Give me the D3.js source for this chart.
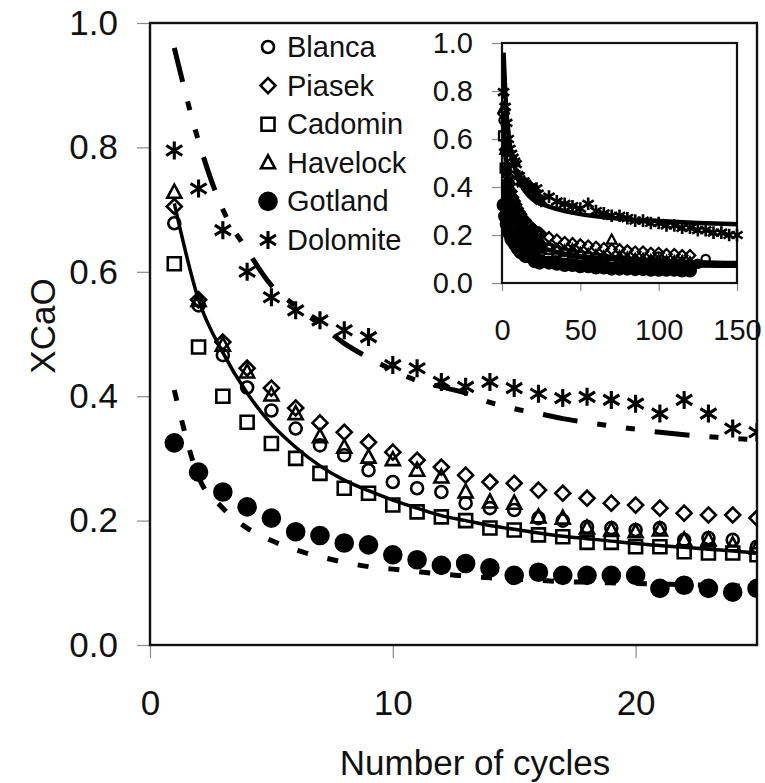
<!DOCTYPE html>
<html>
<head>
<meta charset="utf-8">
<script src="https://cdn.jsdelivr.net/npm/d3@7"></script>
<style>
  body { margin: 0; background: #fff; }
  svg { font-family: "Liberation Sans", Arial, sans-serif; }
</style>
</head>
<body>
<svg id="chart" width="765" height="783"></svg>
<script>
// ---- data ----
const seriesNames = ['Blanca', 'Piasek', 'Cadomin', 'Havelock', 'Gotland', 'Dolomite'];

const cycles = [1, 2, 3, 4, 5, 6, 7, 8, 9, 10, 11, 12, 13, 14, 15, 16, 17, 18, 19, 20, 21, 22, 23, 24, 25];
const blanca   = [0.678, 0.546, 0.466, 0.414, 0.377, 0.348, 0.321, 0.305, 0.281, 0.262, 0.252, 0.246, 0.228, 0.220, 0.217, 0.204, 0.200, 0.190, 0.188, 0.185, 0.188, 0.169, 0.172, 0.169, 0.158];
const piasek   = [0.705, 0.555, 0.487, 0.445, 0.413, 0.381, 0.357, 0.342, 0.326, 0.310, 0.297, 0.286, 0.273, 0.262, 0.260, 0.249, 0.244, 0.236, 0.228, 0.225, 0.220, 0.212, 0.209, 0.209, 0.204];
const cadomin  = [0.613, 0.479, 0.400, 0.358, 0.324, 0.300, 0.276, 0.252, 0.244, 0.225, 0.214, 0.206, 0.200, 0.188, 0.185, 0.177, 0.174, 0.165, 0.165, 0.158, 0.158, 0.150, 0.148, 0.148, 0.145];
const havelock = [0.728, 0.554, 0.482, 0.439, 0.402, 0.372, 0.335, 0.318, 0.302, 0.298, 0.281, 0.270, 0.246, 0.230, 0.228, 0.206, 0.204, 0.188, 0.185, 0.182, 0.185, 0.169, 0.169, 0.161, 0.156];
const gotland  = [0.325, 0.278, 0.246, 0.222, 0.204, 0.182, 0.176, 0.164, 0.161, 0.145, 0.137, 0.128, 0.131, 0.124, 0.112, 0.117, 0.112, 0.112, 0.112, 0.112, 0.091, 0.096, 0.091, 0.085, 0.091];
const dolomite = [0.795, 0.734, 0.667, 0.600, 0.559, 0.538, 0.522, 0.506, 0.495, 0.450, 0.445, 0.423, 0.415, 0.423, 0.413, 0.404, 0.397, 0.399, 0.394, 0.388, 0.372, 0.394, 0.372, 0.348, 0.342];

// long-run cycles, only shown in the inset
const extCycles = [30, 35, 40, 45, 50, 55, 60, 65, 70, 75, 80, 85, 90, 95, 100, 105, 110, 115, 120, 125, 130, 135, 140, 145, 150];
const blancaExt   = [0.150, 0.140, 0.130, 0.125, 0.120, 0.115, 0.110, 0.105, 0.100, 0.100, 0.095, 0.095, 0.090, 0.090, 0.110, 0.085, 0.085, 0.080, 0.080, 0.080, 0.100];
const piasekExt   = [0.190, 0.180, 0.170, 0.165, 0.160, 0.155, 0.150, 0.145, 0.140, 0.140, 0.135, 0.130, 0.130, 0.125, 0.125, 0.120, 0.120, 0.115, 0.115];
const cadominExt  = [0.140, 0.130, 0.120, 0.115, 0.110, 0.105, 0.100, 0.095, 0.090, 0.090, 0.085, 0.085, 0.080, 0.080, 0.075, 0.075, 0.075, 0.070, 0.070];
const havelockExt = [0.150, 0.140, 0.135, 0.140, 0.125, 0.120, 0.115, 0.110, 0.180, 0.110, 0.105, 0.100, 0.100, 0.095, 0.095, 0.090, 0.090, 0.090, 0.085];
const gotlandExt  = [0.085, 0.080, 0.075, 0.075, 0.070, 0.070, 0.065, 0.065, 0.060, 0.060, 0.060, 0.058, 0.058, 0.055, 0.055, 0.055, 0.055, 0.052, 0.052];
const dolomiteExt = [0.360, 0.340, 0.330, 0.320, 0.310, 0.330, 0.300, 0.290, 0.280, 0.280, 0.270, 0.260, 0.260, 0.250, 0.250, 0.240, 0.240, 0.230, 0.230, 0.220, 0.220, 0.210, 0.210, 0.200, 0.200];

// fitted curves
const fitCycles   = [1, 2, 3, 4, 5, 6, 7, 8, 9, 10, 11, 12, 13, 14, 15, 16, 17, 18, 19, 20, 21, 22, 23, 24, 25, 30, 40, 50, 60, 75, 100, 125, 150];
const fitSolid    = [0.710, 0.555, 0.470, 0.405, 0.355, 0.318, 0.288, 0.265, 0.248, 0.233, 0.220, 0.208, 0.200, 0.192, 0.186, 0.180, 0.175, 0.171, 0.167, 0.163, 0.160, 0.157, 0.154, 0.151, 0.148, 0.138, 0.122, 0.112, 0.105, 0.098, 0.091, 0.086, 0.083];
const fitDolomite = [0.960, 0.810, 0.700, 0.635, 0.578, 0.545, 0.515, 0.485, 0.462, 0.442, 0.425, 0.415, 0.405, 0.390, 0.380, 0.372, 0.364, 0.358, 0.352, 0.347, 0.342, 0.338, 0.335, 0.332, 0.330, 0.318, 0.300, 0.287, 0.278, 0.268, 0.258, 0.250, 0.245];
const fitGotland  = [0.410, 0.270, 0.220, 0.188, 0.168, 0.153, 0.142, 0.133, 0.126, 0.122, 0.118, 0.114, 0.111, 0.108, 0.106, 0.104, 0.102, 0.101, 0.100, 0.099, 0.098, 0.097, 0.096, 0.095, 0.094, 0.090, 0.085, 0.082, 0.080, 0.077, 0.075, 0.073, 0.072];

const yTicks = [0, 0.2, 0.4, 0.6, 0.8, 1.0];
const xTicks = [0, 10, 20];
const insetXTicks = [0, 50, 100, 150];

// ---- setup ----
let svg = d3.select('#chart');
let series = [
  {name: seriesNames[0], main: blanca,   ext: blancaExt,   shape: 'circle'},
  {name: seriesNames[1], main: piasek,   ext: piasekExt,   shape: 'diamond'},
  {name: seriesNames[2], main: cadomin,  ext: cadominExt,  shape: 'square'},
  {name: seriesNames[3], main: havelock, ext: havelockExt, shape: 'triangle'},
  {name: seriesNames[4], main: gotland,  ext: gotlandExt,  shape: 'dot'},
  {name: seriesNames[5], main: dolomite, ext: dolomiteExt, shape: 'star'}
];

let x = d3.scaleLinear().domain([0, 25]).range([150, 757]);
let y = d3.scaleLinear().domain([0, 1]).range([645, 23]);
let ix = d3.scaleLinear().domain([0, 150]).range([502, 737]);
let iy = d3.scaleLinear().domain([0, 1]).range([283, 43]);

function markerPath(shape, k) {
  let p = d3.path();
  if (shape === 'circle') {
    p.moveTo(6 * k, 0); p.arc(0, 0, 6 * k, 0, 2 * Math.PI);
  } else if (shape === 'dot') {
    p.moveTo(8.5 * k, 0); p.arc(0, 0, 8.5 * k, 0, 2 * Math.PI);
  } else if (shape === 'diamond') {
    p.moveTo(0, -7.5 * k); p.lineTo(7.5 * k, 0); p.lineTo(0, 7.5 * k); p.lineTo(-7.5 * k, 0); p.closePath();
  } else if (shape === 'square') {
    p.rect(-6.5 * k, -6.5 * k, 13 * k, 13 * k);
  } else if (shape === 'triangle') {
    p.moveTo(0, -7.5 * k); p.lineTo(7 * k, 5.5 * k); p.lineTo(-7 * k, 5.5 * k); p.closePath();
  } else if (shape === 'star') {
    p.moveTo(0, -9 * k); p.lineTo(0, 9 * k);
    p.moveTo(-8 * k, -5 * k); p.lineTo(8 * k, 5 * k);
    p.moveTo(-8 * k, 5 * k); p.lineTo(8 * k, -5 * k);
  }
  return p.toString();
}

function drawMarkers(g, pts, shape, k, sw) {
  g.selectAll(null)
    .data(pts)
    .enter()
    .append('path')
    .attr('transform', function(d) { return 'translate(' + d[0] + ',' + d[1] + ')'; })
    .attr('d', markerPath(shape, k))
    .attr('fill', shape === 'dot' ? '#000' : 'none')
    .attr('stroke', '#000')
    .attr('stroke-width', shape === 'star' ? sw * 1.2 : sw);
}

// ---- main plot ----
svg.append('clipPath').attr('id', 'plotclip')
  .append('rect').attr('x', 150).attr('y', 23).attr('width', 607).attr('height', 622);

let yAxis = svg.append('g')
  .attr('transform', 'translate(150,0)')
  .call(d3.axisLeft(y).tickValues(yTicks).tickFormat(d3.format('.1f')).tickSize(13).tickPadding(19));
let xAxis = svg.append('g')
  .attr('transform', 'translate(0,645)')
  .call(d3.axisBottom(x).tickValues(xTicks).tickSize(13).tickPadding(32));
[yAxis, xAxis].forEach(function(a) {
  a.select('.domain').remove();
  a.selectAll('line').attr('stroke', '#8a8a8a').attr('stroke-width', 1.2);
  a.selectAll('text').attr('fill', '#111').attr('font-size', 35).attr('font-family', '"Liberation Sans", Arial, sans-serif');
});

svg.append('rect')
  .attr('x', 150).attr('y', 23).attr('width', 607).attr('height', 622)
  .attr('fill', 'none').attr('stroke', '#111').attr('stroke-width', 2.4);

svg.append('text')
  .attr('transform', 'translate(55,326) rotate(-90)')
  .attr('text-anchor', 'middle').attr('font-size', 35).attr('fill', '#111')
  .text('XCaO');
svg.append('text')
  .attr('x', 475).attr('y', 775)
  .attr('text-anchor', 'middle').attr('font-size', 35).attr('fill', '#111')
  .text('Number of cycles');

let plot = svg.append('g').attr('clip-path', 'url(#plotclip)');

let line = d3.line().curve(d3.curveMonotoneX)
  .x(function(d) { return x(d[0]); })
  .y(function(d) { return y(d[1]); });

function fitPoints(vals, maxC) {
  return fitCycles.map(function(c, i) { return [c, vals[i]]; }).filter(function(d) { return d[0] <= maxC; });
}

plot.append('path').datum(fitPoints(fitSolid, 26)).attr('d', line)
  .attr('fill', 'none').attr('stroke', '#000').attr('stroke-width', 3.5);
plot.append('path').datum(fitPoints(fitDolomite, 26)).attr('d', line)
  .attr('fill', 'none').attr('stroke', '#000').attr('stroke-width', 5)
  .attr('stroke-dasharray', '35,20,9,20,9,20');
plot.append('path').datum(fitPoints(fitGotland, 26)).attr('d', line)
  .attr('fill', 'none').attr('stroke', '#000').attr('stroke-width', 5)
  .attr('stroke-dasharray', '11,20');

series.forEach(function(s) {
  let pts = s.main.map(function(v, i) { return [x(cycles[i]), y(v)]; });
  drawMarkers(plot.append('g'), pts, s.shape, 1, 2.6);
});

// ---- legend ----
let legend = svg.append('g');
series.forEach(function(s, i) {
  let cy = 47 + i * 38.6;
  drawMarkers(legend.append('g'), [[268, cy]], s.shape, 1, 2.6);
  legend.append('text')
    .attr('x', 287).attr('y', cy + 10)
    .attr('font-size', 29).attr('fill', '#111')
    .text(s.name);
});

// ---- inset ----
let inset = svg.append('g');
let iyAxis = inset.append('g')
  .attr('transform', 'translate(502,0)')
  .call(d3.axisLeft(iy).tickValues(yTicks).tickFormat(d3.format('.1f')).tickSize(10).tickPadding(19));
let ixAxis = inset.append('g')
  .attr('transform', 'translate(0,283)')
  .call(d3.axisBottom(ix).tickValues(insetXTicks).tickSize(8).tickPadding(28));
[iyAxis, ixAxis].forEach(function(a) {
  a.select('.domain').remove();
  a.selectAll('line').attr('stroke', '#8a8a8a').attr('stroke-width', 1.2);
  a.selectAll('text').attr('fill', '#111').attr('font-size', 29).attr('font-family', '"Liberation Sans", Arial, sans-serif');
});
inset.append('rect')
  .attr('x', 502).attr('y', 43).attr('width', 235).attr('height', 240)
  .attr('fill', 'none').attr('stroke', '#111').attr('stroke-width', 2.2);

let iline = d3.line().curve(d3.curveMonotoneX)
  .x(function(d) { return ix(d[0]); })
  .y(function(d) { return iy(d[1]); });

[fitSolid, fitDolomite, fitGotland].forEach(function(f) {
  inset.append('path').datum(fitPoints(f, 150)).attr('d', iline)
    .attr('fill', 'none').attr('stroke', '#000').attr('stroke-width', 4.5);
});

series.forEach(function(s) {
  let pts = s.main.map(function(v, i) { return [ix(cycles[i]), iy(v)]; })
    .concat(s.ext.map(function(v, i) { return [ix(extCycles[i]), iy(v)]; }));
  drawMarkers(inset.append('g'), pts, s.shape, 0.7, 2.2);
});
</script>
</body>
</html>
